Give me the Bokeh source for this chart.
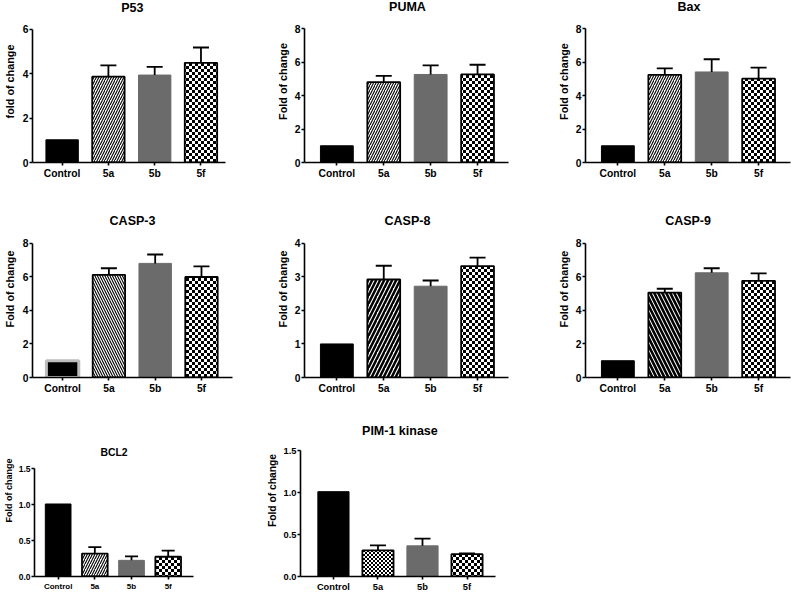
import numpy as np
from bokeh.plotting import figure
from bokeh.models import (Range1d, FixedTicker, Whisker, TeeHead, ColumnDataSource,
                          PrintfTickFormatter, ImageURLTexture, Label)
from bokeh.core.properties import value
from bokeh.layouts import row, column
from bokeh.embed import file_html
from bokeh.resources import INLINE

# ---------------- data ----------------
categories = ["Control", "5a", "5b", "5f"]

p53_mean = [1.02, 3.86, 3.93, 4.48]
p53_sem = [0.0, 0.51, 0.37, 0.69]

puma_mean = [1.0, 4.81, 5.27, 5.27]
puma_sem = [0.0, 0.38, 0.54, 0.58]

bax_mean = [1.0, 5.25, 5.42, 5.02]
bax_sem = [0.0, 0.39, 0.76, 0.66]

casp3_mean = [1.0, 6.12, 6.80, 5.99]
casp3_sem = [0.0, 0.39, 0.53, 0.63]

casp8_mean = [1.0, 2.92, 2.72, 3.32]
casp8_sem = [0.0, 0.41, 0.17, 0.25]

casp9_mean = [1.0, 5.06, 6.24, 5.76]
casp9_sem = [0.0, 0.23, 0.27, 0.44]

bcl2_mean = [1.01, 0.32, 0.225, 0.275]
bcl2_sem = [0.0, 0.09, 0.055, 0.085]

pim_mean = [1.01, 0.31, 0.365, 0.266]
pim_sem = [0.0, 0.06, 0.085, 0.01]

ticks_8 = [0, 2, 4, 6, 8]
ticks_6 = [0, 2, 4, 6]
ticks_4 = [0, 1, 2, 3, 4]
ticks_15 = [0, 0.5, 1.0, 1.5]

# ---------------- layout helpers ----------------
FONT = "Liberation Sans"
KX, KY = 792 / 808, 594 / 610   # reference picture -> layout


def X(x):
    return x * KX


def Y(y):
    return y * KY


def checker_url(n):
    h = n // 2
    return ("data:image/svg+xml;utf8,<svg xmlns='http://www.w3.org/2000/svg' "
            f"width='{n}' height='{n}'><rect x='0' y='0' width='{h}' height='{h}' fill='black'/>"
            f"<rect x='{h}' y='{h}' width='{h}' height='{h}' fill='black'/></svg>")


def panel(title, ylabel, mean, sem, yticks, box, frame, xr, hatch, fonts,
          title_pos, ylab_standoff, cap=16, fmt=None, control_outline=None):
    fx0, fy0, fw, fh = box
    L, R, T, B = frame
    left = int(round(X(L) - fx0))
    right = int(round(fx0 + fw - X(R)))
    top_px = Y(T) - fy0
    bottom = int(round(fy0 + fh - Y(B)))
    title_fs, ytick_fs, xtick_fs, ylab_fs = fonts

    ymax = yticks[-1]
    hf = fh - bottom                      # frame reaches the top of the figure
    y_end = ymax * hf / (hf - top_px)     # so that ymax sits where the axis top is

    p = figure(width=fw, height=fh, output_backend="svg", toolbar_location=None,
               x_range=Range1d(*xr), y_range=Range1d(0, y_end),
               min_border_left=left, min_border_right=right,
               min_border_top=0, min_border_bottom=bottom,
               background_fill_color="white", border_fill_color="white")
    p.outline_line_color = None
    p.xgrid.grid_line_color = None
    p.ygrid.grid_line_color = None
    p.title.text = ""

    # title, floated above the axis top
    tref_x, tref_y = title_pos
    d = Y(T) - Y(tref_y)
    xoff = X(tref_x) - (X(L) + X(R)) / 2
    p.add_layout(Label(x=(xr[0] + xr[1]) / 2, y=ymax, x_offset=xoff, y_offset=d,
                       text=title, text_align="center", text_baseline="middle",
                       text_font=FONT, text_font_style="bold",
                       text_font_size=title_fs, text_color="black"))

    x = np.arange(len(categories))
    mean = np.array(mean, dtype=float)
    sem = np.array(sem, dtype=float)
    w = 0.7

    # Control: solid black
    p.vbar(x=x[:1], top=mean[:1], width=w, bottom=0, fill_color="black",
           line_color=control_outline or "black",
           line_width=3 if control_outline else 1)
    # 5a: hatched
    if hatch[0] == "checker":
        p.vbar(x=x[1:2], top=mean[1:2], width=w, bottom=0, fill_color="white",
               line_color="black", line_width=1.8, hatch_pattern=value("chk"),
               hatch_extra={"chk": ImageURLTexture(url=checker_url(hatch[1]))})
    else:
        p.vbar(x=x[1:2], top=mean[1:2], width=w, bottom=0, fill_color="white",
               line_color="black", line_width=1.8, hatch_pattern=hatch[0],
               hatch_scale=hatch[1], hatch_weight=hatch[2], hatch_color="black")
    # 5b: grey
    p.vbar(x=x[2:3], top=mean[2:3], width=w, bottom=0, fill_color="#6b6b6b",
           line_color="#6b6b6b", line_width=1)
    # 5f: checker
    p.vbar(x=x[3:4], top=mean[3:4], width=w, bottom=0, fill_color="white",
           line_color="black", line_width=1.8, hatch_pattern=value("chk6"),
           hatch_extra={"chk6": ImageURLTexture(url=checker_url(6))})

    keep = sem > 0
    src = ColumnDataSource(dict(base=x[keep], lower=mean[keep], upper=(mean + sem)[keep]))
    wh = Whisker(source=src, base="base", lower="lower", upper="upper",
                 dimension="height", line_color="black", line_width=1.8,
                 upper_head=TeeHead(size=cap, line_width=1.8, line_color="black"),
                 lower_head=None, level="overlay")
    p.add_layout(wh)

    xa = p.xaxis[0]
    ya = p.yaxis[0]
    xa.ticker = FixedTicker(ticks=list(x))
    xa.major_label_overrides = {int(i): c for i, c in zip(x, categories)}
    ya.ticker = FixedTicker(ticks=yticks)
    ya.bounds = (0, ymax)
    if fmt:
        ya.formatter = PrintfTickFormatter(format=fmt)
    ya.axis_label = ylabel
    ya.axis_label_text_font = FONT
    ya.axis_label_text_font_style = "bold"
    ya.axis_label_text_font_size = ylab_fs
    ya.axis_label_text_color = "black"
    ya.axis_label_standoff = ylab_standoff
    for ax, fs in ((xa, xtick_fs), (ya, ytick_fs)):
        ax.axis_line_color = "black"
        ax.axis_line_width = 1.6
        ax.major_tick_line_color = "black"
        ax.major_tick_line_width = 1.6
        ax.major_tick_out = 3
        ax.major_tick_in = 0
        ax.minor_tick_line_color = None
        ax.major_label_text_font = FONT
        ax.major_label_text_font_style = "bold"
        ax.major_label_text_font_size = fs
        ax.major_label_text_color = "black"
    xa.major_label_standoff = 2
    ya.major_label_standoff = 1
    return p


big = ("12.5px", "10.3px", "10.3px", "10.8px")
R1 = (0, 200)
R2 = (200, 204)
R3 = (404, 190)
C = [(0, 265), (265, 264), (529, 263)]

f_p53 = panel("P53", "fold of change", p53_mean, p53_sem, ticks_6,
              (C[0][0], R1[0], C[0][1], R1[1]), (29.3, 230, 29.3, 166.7), (-0.64, 3.53),
              ("/", 5, 1.1), big, (133, 7.3), 4)
f_puma = panel("PUMA", "Fold of change", puma_mean, puma_sem, ticks_8,
               (C[1][0], R1[0], C[1][1], R1[1]), (310, 518, 29.3, 167.3), (-0.69, 3.66),
               ("/", 5, 1.1), big, (415, 7.3), 3)
f_bax = panel("Bax", "Fold of change", bax_mean, bax_sem, ticks_8,
              (C[2][0], R1[0], C[2][1], R1[1]), (597.3, 806, 29.3, 167), (-0.69, 3.68),
              ("/", 5, 1.1), big, (702.7, 7.3), 3)

f_c3 = panel("CASP-3", "Fold of change", casp3_mean, casp3_sem, ticks_8,
             (C[0][0], R2[0], C[0][1], R2[1]), (29.3, 236.7, 249.3, 387.3), (-0.65, 3.67),
             ("\\", 5, 1.1), big, (133, 226.7), 4, control_outline="#bdbdbd")
f_c8 = panel("CASP-8", "Fold of change", casp8_mean, casp8_sem, ticks_4,
             (C[1][0], R2[0], C[1][1], R2[1]), (310, 518, 249.3, 387.3), (-0.69, 3.66),
             ("/", 8, 2.5), big, (415, 226.7), 3)
f_c9 = panel("CASP-9", "Fold of change", casp9_mean, casp9_sem, ticks_8,
             (C[2][0], R2[0], C[2][1], R2[1]), (597.3, 806, 249.3, 387.3), (-0.69, 3.68),
             ("\\", 8, 2.6), big, (701.7, 226.7), 3)

f_bcl2 = panel("BCL2", "Fold of change", bcl2_mean, bcl2_sem, ticks_15,
               (0, R3[0], 225, R3[1]), (29.3, 196.7, 481.7, 593.3), (-0.645, 3.69),
               ("/", 5, 1.1), ("10.4px", "8.5px", "8px", "9px"), (113, 465), 2,
               cap=13, fmt="%.1f")
f_pim = panel("PIM-1 kinase", "Fold of change", pim_mean, pim_sem, ticks_15,
              (225, R3[0], 314, R3[1]), (306.5, 505, 462.7, 594), (-0.74, 3.64),
              ("checker", 4), ("12.5px", "9.3px", "9.3px", "10.3px"), (407.7, 442.8), 3,
              cap=16, fmt="%.1f")

layout = column(row(f_p53, f_puma, f_bax),
                row(f_c3, f_c8, f_c9),
                row(f_bcl2, f_pim))

open("out.html", "w").write(file_html(layout, INLINE))
